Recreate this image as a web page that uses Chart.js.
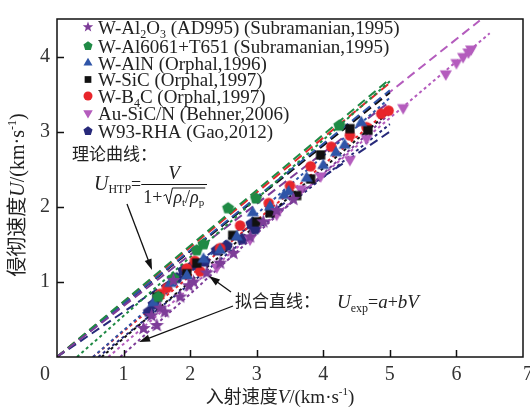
<!DOCTYPE html>
<html lang="zh">
<head>
  <meta charset="UTF-8">
  <title>侵彻速度与入射速度</title>
  <script src="https://cdn.jsdelivr.net/npm/chart.js"></script>
  <style>
    html, body { margin: 0; padding: 0; background: #fff; }
  </style>
</head>
<body>
  <canvas id="chart" width="530" height="411"></canvas>

  <script>
    const SERIF = '"Liberation Serif", "Times New Roman", serif';
    const CJK = '"Noto Sans CJK SC", sans-serif';

    const xTickLabels = [0, 1, 2, 3, 4, 5, 6, 7];
    const yTickLabels = [1, 2, 3, 4];

    // "_n" marks a subscript digit
    const seriesNames = [
      'W-Al_2O_3 (AD995) (Subramanian,1995)',
      'W-Al6061+T651 (Subramanian,1995)',
      'W-AlN (Orphal,1996)',
      'W-SiC (Orphal,1997)',
      'W-B_4C (Orphal,1997)',
      'Au-SiC/N (Behner,2006)',
      'W93-RHA (Gao,2012)'
    ];
    const seriesColors = ['#7d3c98', '#1f8a45', '#2f55a8', '#111111', '#e8252b', '#b45cbd', '#27297a'];
    const seriesMarkers = ['star', 'pentagon', 'triangle', 'rect', 'circle', 'triangleDown', 'pentagon'];

    // impact velocity V / penetration velocity U, km/s
    const al2o3V = [1.30, 1.42, 1.50, 1.55, 1.62, 1.75, 1.85, 1.98, 2.05, 2.25, 2.45, 2.65, 2.90, 3.10, 3.30, 3.55];
    const al2o3U = [0.38, 0.55, 0.42, 0.65, 0.60, 1.02, 0.80, 0.95, 1.00, 1.12, 1.25, 1.38, 1.60, 1.80, 1.95, 2.10];
    const al6061V = [1.52, 1.75, 2.10, 2.20, 2.57, 2.99, 4.24];
    const al6061U = [0.80, 1.05, 1.42, 1.50, 1.98, 2.11, 3.08];
    const alnV = [1.45, 1.70, 1.95, 2.20, 2.45, 2.70, 2.94, 3.20, 3.41, 3.48, 3.75, 4.00, 4.19, 4.32, 4.57];
    const alnU = [0.72, 0.98, 1.08, 1.30, 1.42, 1.60, 1.92, 2.00, 2.15, 2.20, 2.38, 2.55, 2.72, 2.82, 3.12];
    const sicV = [1.50, 1.95, 2.10, 2.64, 3.00, 3.20, 3.60, 3.81, 3.96, 4.40, 4.67];
    const sicU = [0.80, 1.11, 1.25, 1.62, 1.80, 1.92, 2.15, 2.37, 2.69, 3.04, 3.02];
    const b4cV = [1.55, 1.65, 1.95, 2.07, 2.15, 2.45, 2.75, 3.18, 3.50, 3.81, 4.12, 4.40, 4.65, 4.87, 4.98];
    const b4cU = [0.84, 0.92, 1.18, 1.28, 1.14, 1.45, 1.75, 2.05, 2.28, 2.54, 2.80, 2.95, 3.06, 3.24, 3.28];
    const ausicV = [2.40, 2.90, 3.30, 3.66, 3.96, 4.40, 4.65, 5.20, 5.84, 6.00, 6.10, 6.18, 6.22];
    const ausicU = [1.20, 1.57, 1.90, 2.24, 2.41, 2.63, 2.91, 3.32, 3.77, 3.92, 4.00, 4.06, 4.10];
    const rhaV = [1.38, 1.45, 1.80, 1.90, 2.05, 2.22, 2.40, 2.55, 2.78, 2.92, 2.97];
    const rhaU = [0.60, 0.70, 1.05, 1.15, 1.22, 1.27, 1.42, 1.48, 1.57, 1.77, 1.70];

    // theoretical lines U_HTP start at the origin
    const theoryEndV = [5.0, 5.0, 5.0, 5.0, 5.0, 6.35, 5.0];
    const theoryEndU = [3.40, 3.70, 3.55, 3.52, 3.65, 4.48, 3.00];
    // fitted lines U_exp = a + bV, from the V axis crossing to the last point
    const fitStartV = [0.95, 0.30, 0.54, 0.67, 0.54, 0.77, 0.62];
    const fitEndV = [5.0, 5.0, 5.0, 5.0, 5.0, 6.5, 5.0];
    const fitEndU = [3.24, 3.67, 3.45, 3.27, 3.30, 4.31, 3.10];

    const pointSets = [
      [al2o3V, al2o3U], [al6061V, al6061U], [alnV, alnU], [sicV, sicU],
      [b4cV, b4cU], [ausicV, ausicU], [rhaV, rhaU]
    ];

    function shapePath(ctx, style, x, y, r) {
      ctx.beginPath();
      if (style === 'circle') {
        ctx.arc(x, y, r, 0, Math.PI * 2);
      } else if (style === 'rect') {
        const s = r * 0.8;
        ctx.rect(x - s, y - s, 2 * s, 2 * s);
      } else {
        let n, start, inner = null;
        if (style === 'star') { n = 5; start = -90; inner = r * 0.42; }
        else if (style === 'pentagon') { n = 5; start = -90; }
        else if (style === 'triangle') { n = 3; start = -90; }
        else { n = 3; start = 90; }
        const steps = inner ? n * 2 : n;
        for (let k = 0; k < steps; k++) {
          const rr = inner && k % 2 ? inner : r;
          const ang = (start + k * 360 / steps) * Math.PI / 180;
          const px = x + rr * Math.cos(ang), py = y + rr * Math.sin(ang);
          k ? ctx.lineTo(px, py) : ctx.moveTo(px, py);
        }
        ctx.closePath();
      }
    }

    function drawMarker(ctx, style, x, y, r, color) {
      ctx.fillStyle = color;
      shapePath(ctx, style, x, y, r);
      ctx.fill();
    }

    function markerImage(style, color, r) {
      const c = document.createElement('canvas');
      const size = Math.ceil(2 * r + 4);
      c.width = c.height = size;
      drawMarker(c.getContext('2d'), style, size / 2, size / 2, r, color);
      return c;
    }

    const chartSizes = { star: 7.5, pentagon: 6.3, triangle: 7, rect: 5.8, circle: 5.3, triangleDown: 7 };
    const legendSizes = { star: 5.5, pentagon: 4.8, triangle: 5.2, rect: 4.2, circle: 4.5, triangleDown: 5.5 };

    const datasets = [];
    pointSets.forEach((p, i) => {
      datasets.push({
        label: seriesNames[i],
        data: p[0].map((v, k) => ({ x: v, y: p[1][k] })),
        pointStyle: markerImage(seriesMarkers[i], seriesColors[i], chartSizes[seriesMarkers[i]]),
        pointRadius: 6,
        showLine: false,
        order: 0
      });
    });
    seriesColors.forEach((col, i) => {
      datasets.push({
        data: [{ x: fitStartV[i], y: 0 }, { x: fitEndV[i], y: fitEndU[i] }],
        showLine: true, borderColor: col, borderWidth: 2, borderDash: [3, 3],
        pointRadius: 0, order: 1
      });
      datasets.push({
        data: [{ x: 0, y: 0 }, { x: theoryEndV[i], y: theoryEndU[i] }],
        showLine: true, borderColor: col, borderWidth: 2, borderDash: [9, 5],
        pointRadius: 0, order: 2
      });
    });

    function measureParts(ctx, parts) {
      let w = 0;
      parts.forEach(p => { ctx.font = p.font; w += ctx.measureText(p.t).width; });
      return w;
    }
    function drawParts(ctx, parts, x, y) {
      parts.forEach(p => {
        ctx.font = p.font;
        ctx.fillText(p.t, x, y + (p.dy || 0));
        x += ctx.measureText(p.t).width;
      });
      return x;
    }
    function labelParts(s, size) {
      const parts = [];
      s.split(/(_\d)/).forEach(seg => {
        if (!seg) return;
        if (seg[0] === '_') parts.push({ t: seg[1], font: `${Math.round(size * 0.62)}px ${SERIF}`, dy: 4 });
        else parts.push({ t: seg, font: `${size}px ${SERIF}` });
      });
      return parts;
    }
    function arrow(ctx, x1, y1, x2, y2) {
      const ang = Math.atan2(y2 - y1, x2 - x1);
      ctx.beginPath();
      ctx.moveTo(x1, y1);
      ctx.lineTo(x2 - 8 * Math.cos(ang), y2 - 8 * Math.sin(ang));
      ctx.stroke();
      ctx.beginPath();
      ctx.moveTo(x2, y2);
      ctx.lineTo(x2 - 11 * Math.cos(ang) + 3.6 * Math.sin(ang), y2 - 11 * Math.sin(ang) - 3.6 * Math.cos(ang));
      ctx.lineTo(x2 - 11 * Math.cos(ang) - 3.6 * Math.sin(ang), y2 - 11 * Math.sin(ang) + 3.6 * Math.cos(ang));
      ctx.closePath();
      ctx.fill();
    }

    const decor = {
      id: 'decor',
      afterDraw(chart) {
        const { ctx, chartArea: a, scales: { x, y } } = chart;
        ctx.save();
        ctx.strokeStyle = '#111';
        ctx.fillStyle = '#222';
        ctx.lineWidth = 1.5;
        ctx.setLineDash([]);
        ctx.strokeRect(a.left, a.top, a.right - a.left, a.bottom - a.top);

        // inward tick marks
        ctx.beginPath();
        xTickLabels.slice(1, -1).forEach(v => {
          const px = Math.round(x.getPixelForValue(v)) + 0.5;
          ctx.moveTo(px, a.bottom); ctx.lineTo(px, a.bottom - 7);
        });
        yTickLabels.forEach(v => {
          const py = Math.round(y.getPixelForValue(v)) + 0.5;
          ctx.moveTo(a.left, py); ctx.lineTo(a.left + 7, py);
        });
        ctx.stroke();

        // x tick labels, the end ones pushed outside the frame corners
        ctx.fillStyle = '#333';
        ctx.font = `20px ${SERIF}`;
        ctx.textAlign = 'center';
        xTickLabels.forEach(v => {
          let px = x.getPixelForValue(v);
          if (v === xTickLabels[0]) px -= 12;
          if (v === xTickLabels[xTickLabels.length - 1]) px += 5;
          ctx.fillText(String(v), px, a.bottom + 23);
        });
        ctx.textAlign = 'left';

        // axis titles
        ctx.fillStyle = '#222';
        const xTitle = [
          { t: '入射速度', font: `18px ${CJK}` },
          { t: 'V', font: `italic 19px ${SERIF}` },
          { t: '/(km·s', font: `19px ${SERIF}` },
          { t: '-1', font: `11px ${SERIF}`, dy: -8 },
          { t: ')', font: `19px ${SERIF}` }
        ];
        drawParts(ctx, xTitle, 280 - measureParts(ctx, xTitle) / 2, a.bottom + 46);
        const yTitle = [
          { t: '侵彻速度', font: `20px ${CJK}` },
          { t: 'U', font: `italic 20px ${SERIF}` },
          { t: '/(km·s', font: `20px ${SERIF}` },
          { t: '-1', font: `12px ${SERIF}`, dy: -8 },
          { t: ')', font: `20px ${SERIF}` }
        ];
        ctx.save();
        ctx.translate(24, 195);
        ctx.rotate(-Math.PI / 2);
        drawParts(ctx, yTitle, -measureParts(ctx, yTitle) / 2, 0);
        ctx.restore();

        // legend
        const legendY = [27, 46, 63, 79.5, 96, 113, 131];
        seriesNames.forEach((name, i) => {
          const m = seriesMarkers[i];
          drawMarker(ctx, m, 88, legendY[i], legendSizes[m], seriesColors[i]);
          ctx.fillStyle = '#222';
          drawParts(ctx, labelParts(name, 19), 98, legendY[i] + 6.5);
        });

        // theoretical curve note
        ctx.fillStyle = '#222';
        ctx.font = `17px ${CJK}`;
        ctx.fillText('理论曲线：', 72, 160);
        let cx = drawParts(ctx, [
          { t: 'U', font: `italic 20px ${SERIF}` },
          { t: 'HTP', font: `12px ${SERIF}`, dy: 3 },
          { t: '=', font: `18px ${SERIF}` }
        ], 94, 190);
        const barL = cx, barR = 207;
        ctx.lineWidth = 1;
        ctx.beginPath(); ctx.moveTo(barL, 184.5); ctx.lineTo(barR, 184.5); ctx.stroke();
        ctx.font = `italic 19px ${SERIF}`;
        ctx.textAlign = 'center';
        ctx.fillText('V', (barL + barR) / 2, 179);
        ctx.textAlign = 'left';
        let dx = drawParts(ctx, [{ t: '1+', font: `18px ${SERIF}` }], barL + 2, 203);
        const rootEnd = drawParts(ctx, [
          { t: 'ρ', font: `italic 18px ${SERIF}` },
          { t: 't', font: `11px ${SERIF}`, dy: 3 },
          { t: '/', font: `18px ${SERIF}` },
          { t: 'ρ', font: `italic 18px ${SERIF}` },
          { t: 'p', font: `11px ${SERIF}`, dy: 3 }
        ], dx + 11, 203);
        ctx.beginPath();
        ctx.moveTo(dx + 1, 196); ctx.lineTo(dx + 3.5, 194.5); ctx.lineTo(dx + 6.5, 204);
        ctx.lineTo(dx + 10, 188); ctx.lineTo(rootEnd + 1, 188);
        ctx.stroke();

        // fitted line note
        ctx.font = `17px ${CJK}`;
        ctx.fillText('拟合直线：', 235, 307);
        drawParts(ctx, [
          { t: 'U', font: `italic 19px ${SERIF}` },
          { t: 'exp', font: `12px ${SERIF}`, dy: 4 },
          { t: '=', font: `18px ${SERIF}` },
          { t: 'a', font: `italic 19px ${SERIF}` },
          { t: '+', font: `18px ${SERIF}` },
          { t: 'bV', font: `italic 19px ${SERIF}` }
        ], 337, 308);

        ctx.strokeStyle = '#111';
        ctx.fillStyle = '#111';
        ctx.lineWidth = 1.3;
        arrow(ctx, 127, 204, 152, 270);
        arrow(ctx, 231, 292, 209, 276);
        arrow(ctx, 233, 306, 139, 342);
        ctx.restore();
      }
    };

    new Chart(document.getElementById('chart'), {
      type: 'scatter',
      data: { datasets },
      options: {
        responsive: false,
        animation: false,
        devicePixelRatio: 1,
        events: [],
        layout: { padding: { top: 11, right: 7, left: 0, bottom: 0 } },
        plugins: { legend: { display: false }, tooltip: { enabled: false } },
        scales: {
          x: {
            type: 'linear', min: 0, max: 7,
            grid: { display: false, drawTicks: false },
            border: { display: false },
            ticks: { display: false },
            afterBuildTicks: s => { s.ticks = xTickLabels.map(v => ({ value: v })); },
            afterFit: s => { s.height = 54; }
          },
          y: {
            type: 'linear', min: 0, max: 4.5,
            grid: { display: false, drawTicks: false },
            border: { display: false },
            ticks: { color: '#333', padding: 7, font: { family: SERIF, size: 20 } },
            afterBuildTicks: s => { s.ticks = yTickLabels.map(v => ({ value: v })); },
            afterFit: s => { s.width = 57; }
          }
        }
      },
      plugins: [decor]
    });
  </script>
</body>
</html>
